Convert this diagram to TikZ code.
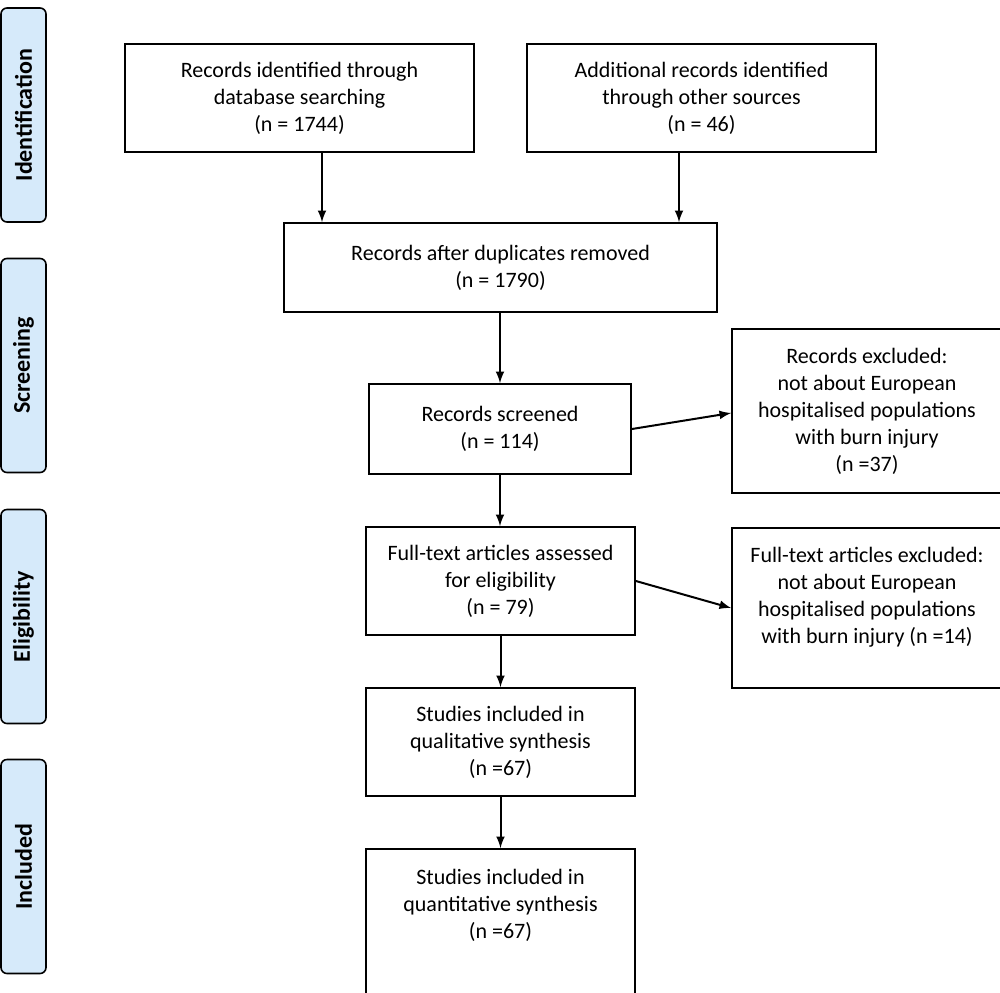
\documentclass[tikz,border=0pt]{standalone}
\usepackage{fontspec}
\setmainfont{Carlito}
\usetikzlibrary{arrows}
\definecolor{phaseblue}{RGB}{214,234,250}

\begin{document}
\begin{tikzpicture}[>=latex,x=0.5pt,y=-0.5pt,line width=1pt,
  box/.style={draw,line width=0.9pt,align=center,inner sep=0pt,
    font=\fontsize{11}{13.5}\selectfont},
  txt/.style={align=center,font=\fontsize{11}{13.5}\selectfont},
  phase/.style={draw,line width=0.8pt,fill=phaseblue,rounded corners=3pt,
    rotate=90,minimum width=107pt,minimum height=22.5pt,inner sep=0pt,
    font=\fontsize{12}{14}\selectfont\bfseries}]
\useasboundingbox (0,0) rectangle (1000,992);
\clip (0,0) rectangle (1000,992);

% stages on the left
\foreach \name/\ypos in {Identification/115,Screening/365.5,Eligibility/616.5,Included/866.5}
  \node[phase] (ph-\name) at (23.5,\ypos) {\name};

% boxes
\node[box,minimum width=174.5pt,minimum height=54pt] (idb) at (299.5,98)
  {Records identified through\\ database searching\\ (n = 1744)};
\node[box,minimum width=174.5pt,minimum height=54pt] (other) at (701.5,98)
  {Additional records identified\\ through other sources\\ (n = 46)};
\node[box,minimum width=216.5pt,minimum height=44.5pt] (dup) at (500.5,267.5)
  {Records after duplicates removed\\ (n = 1790)};
\node[box,minimum width=131pt,minimum height=45pt] (scr) at (500,429)
  {Records screened\\ (n = 114)};
\node[box,minimum width=135pt,minimum height=82pt] (exscr) at (867,411)
  {Records excluded:\\ not about European\\ hospitalised populations\\ with burn injury\\ (n =37)};
\node[box,minimum width=134.5pt,minimum height=54pt] (full) at (500.5,581)
  {Full-text articles assessed\\ for eligibility\\ (n = 79)};
\node[box,minimum width=135pt,minimum height=80pt] (exft) at (867,608) {};
\node[txt] (exfttext) at (867,597)
  {Full-text articles excluded:\\ not about European\\ hospitalised populations\\ with burn injury (n =14)};
\node[box,minimum width=134.5pt,minimum height=54pt] (qual) at (500.5,742)
  {Studies included in\\ qualitative synthesis\\ (n =67)};
\node[box,minimum width=134.5pt,minimum height=85pt] (quan) at (500.5,934) {};
\node[txt] (quantext) at (500.5,905)
  {Studies included in\\ quantitative synthesis\\ (n =67)};

% arrows
\draw[->] ([xshift=11.25pt]idb.south) -- ([xshift=11.25pt]idb.south |- dup.north);
\draw[->] ([xshift=-11.25pt]other.south) -- ([xshift=-11.25pt]other.south |- dup.north);
\draw[->] (dup.south -| scr.north) -- (scr.north);
\draw[->] (scr.east) -- ([yshift=-1pt]exscr.west);
\draw[->] (scr.south) -- (full.north -| scr.south);
\draw[->] (full.east) -- (exft.west);
\draw[->] (full.south) -- (qual.north);
\draw[->] (qual.south) -- (quan.north);

\end{tikzpicture}
\end{document}
